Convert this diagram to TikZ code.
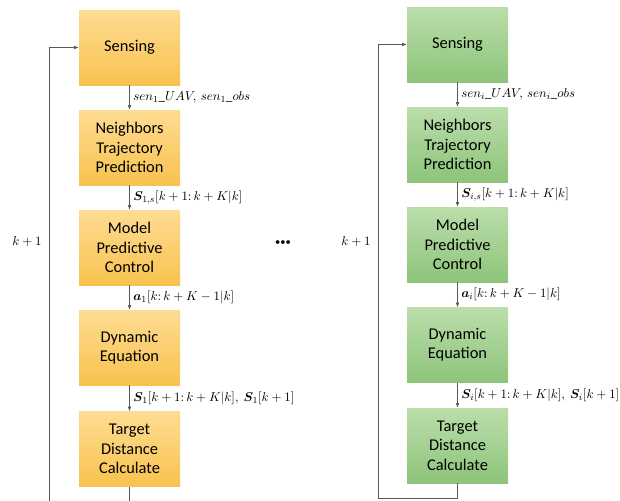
\documentclass[tikz,border=0pt]{standalone}
\usepackage{fontspec}
\usepackage{bm}
\setmainfont{Carlito}
\usetikzlibrary{arrows.meta}

\definecolor{orangetop}{HTML}{FEDC92}
\definecolor{orangebot}{HTML}{F8C24F}
\definecolor{greentop}{HTML}{BBDEAB}
\definecolor{greenbot}{HTML}{8DC47A}
\definecolor{linegray}{HTML}{595959}

\tikzset{
  block/.style={minimum width=101*0.03cm, minimum height=75*0.03cm, align=center,
    inner sep=0pt, font=\fontsize{14}{16.5}\selectfont},
  blockA/.style={block, top color=orangetop, bottom color=orangebot},
  blockB/.style={block, top color=greentop, bottom color=greenbot},
  flow/.style={-{Latex[length=4pt,width=3.2pt]}, draw=linegray, line width=0.6pt},
  lbl/.style={right, xshift=1pt, font=\fontsize{11}{13}\selectfont, inner sep=2pt},
}

\begin{document}
\begin{tikzpicture}
  [x=0.03cm,y=-0.03cm]
    \useasboundingbox (0,0) rectangle (620,500);

    % UAV 1
    \node (sen1) [blockA] at (129.5,47.5)  {Sensing};
    \node (ntp1) [blockA] at (129.5,147.5) {Neighbors\\Trajectory\\Prediction};
    \node (mpc1) [blockA] at (129.5,247.5) {Model\\Predictive\\Control};
    \node (dyn1) [blockA] at (129.5,347.5) {Dynamic\\Equation};
    \node (tdc1) [blockA] at (129.5,449)   {Target\\Distance\\Calculate};

    % UAV i
    \node (seni) [blockB] at (457.5,44.5)  {Sensing};
    \node (ntpi) [blockB] at (457.5,144.5) {Neighbors\\Trajectory\\Prediction};
    \node (mpci) [blockB] at (457.5,244.5) {Model\\Predictive\\Control};
    \node (dyni) [blockB] at (457.5,345)   {Dynamic\\Equation};
    \node (tdci) [blockB] at (457.5,445.5) {Target\\Distance\\Calculate};

    \draw[flow] (sen1) -- node[lbl] {$sen_1\_UAV,\, sen_1\_obs$} (ntp1);
    \draw[flow] (ntp1) -- node[lbl] {$\bm{S}_{1,s}[k+1{:}\,k+K|k]$} (mpc1);
    \draw[flow] (mpc1) -- node[lbl] {$\bm{a}_1[k{:}\,k+K-1|k]$} (dyn1);
    \draw[flow] (dyn1) -- node[lbl] {$\bm{S}_1[k+1{:}\,k+K|k],\ \bm{S}_1[k+1]$} (tdc1);

    \draw[flow] (seni) -- node[lbl] {$sen_i\_UAV,\, sen_i\_obs$} (ntpi);
    \draw[flow] (ntpi) -- node[lbl] {$\bm{S}_{i,s}[k+1{:}\,k+K|k]$} (mpci);
    \draw[flow] (mpci) -- node[lbl] {$\bm{a}_i[k{:}\,k+K-1|k]$} (dyni);
    \draw[flow] (dyni) -- node[lbl] {$\bm{S}_i[k+1{:}\,k+K|k],\ \bm{S}_i[k+1]$} (tdci);

    % feedback loops
    \coordinate (loop1) at (49,506);
    \coordinate (loopi) at (378,498.5);
    \draw[flow] (tdc1.south) |- (loop1) |- (sen1.west);
    \draw[flow] (tdci.south) |- (loopi) |- (seni.west);

    \node (k1) [font=\fontsize{11}{13}\selectfont] at (27,242)  {$k+1$};
    \node (ki) [font=\fontsize{11}{13}\selectfont] at (356,242) {$k+1$};
    \node (dots) [font=\fontsize{9}{10}\selectfont] at (283,243) {•••};
\end{tikzpicture}
\end{document}
